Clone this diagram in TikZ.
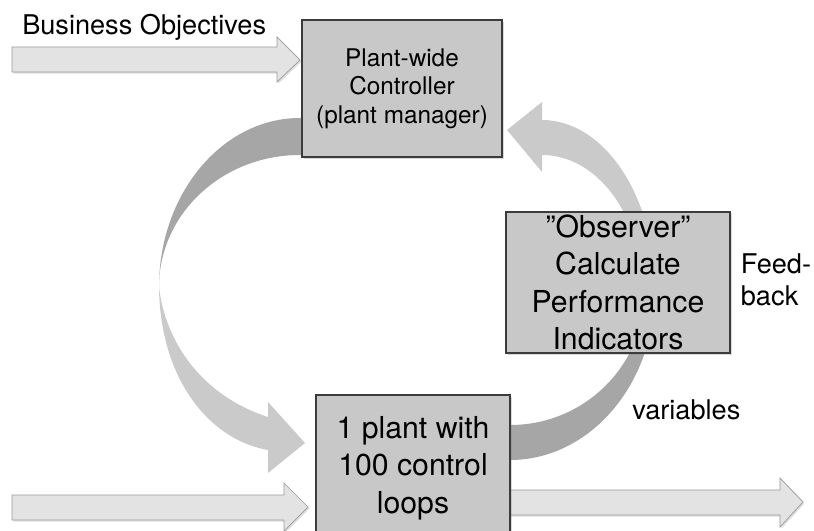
\documentclass[tikz,border=0pt]{standalone}
\usepackage{fontspec}
\setmainfont{TeX Gyre Heros}
\usetikzlibrary{shadows, positioning}
\definecolor{rgray1}{HTML}{C8C8C8}
\definecolor{rgray2}{HTML}{E3E3E3}
\definecolor{rgray3}{HTML}{A6A6A6}
\definecolor{rgray4}{HTML}{CACACA}
\definecolor{rline1}{HTML}{3C3C3C}
\definecolor{rline2}{HTML}{9A9A9A}

\begin{document}
\begin{tikzpicture}[x=0.025cm, y=-0.025cm,
        box/.style={draw=rline1, fill=rgray1, line width=0.8pt, align=center, inner sep=0pt,
            drop shadow={opacity=0.3, shadow xshift=1.2pt, shadow yshift=-1.2pt}},
        fat/.style={draw=rline2, fill=rgray2, line width=0.5pt,
            drop shadow={opacity=0.25, shadow xshift=1pt, shadow yshift=-1.2pt}},
        bigtxt/.style={font=\fontsize{21.5}{26.7}\selectfont},
        smalltxt/.style={font=\fontsize{17.3}{20.3}\selectfont},
        labeltxt/.style={font=\fontsize{19.3}{23}\selectfont, inner sep=0pt}]

        \clip (0,0) rectangle (814,531);

        % feedback loop, back and front halves
        \fill[rgray3] (306,118) -- (300,118) .. controls (222,118) and (159,194) .. (159,287)
            .. controls (159,214) and (222,155) .. (300,155) -- (306,155) -- cycle;
        \fill[rgray4] (159,287) .. controls (160,380) and (210,440) .. (268,450) -- (268,473) -- (305,443)
            -- (268,402) -- (268,417) .. controls (200,395) and (165,340) .. (159,287) -- cycle;

        \fill[rgray4] (655,290) .. controls (655,196) and (604,120) .. (542,120) -- (542,102) -- (507,130)
            -- (542,172) -- (542,155) .. controls (597,155) and (642,215) .. (642,290) -- cycle;
        \fill[rgray3] (505,460) -- (510,460) .. controls (590,460) and (655,384) .. (655,290) -- (645,290)
            .. controls (645,365) and (585,425) .. (510,425) -- (505,425) -- cycle;

        % straight arrows
        \draw[fat] (12,47) -- (277,47) -- (277,37) -- (300,60) -- (277,82) -- (277,72) -- (12,72) -- cycle;
        \draw[fat] (12,495) -- (284,495) -- (284,483) -- (308,507) -- (284,531) -- (284,520) -- (12,520) -- cycle;
        \draw[fat] (505,490) -- (780,490) -- (780,478) -- (803,502) -- (780,527) -- (780,515) -- (505,515) -- cycle;

        \node (ctrl) [box, smalltxt, minimum width=5cm, minimum height=3.425cm] at (402,88.5)
            {Plant-wide\\Controller\\(plant manager)};
        \node (obs) [box, bigtxt, minimum width=5.6cm, minimum height=3.525cm] at (618,282.5)
            {''Observer''\\Calculate\\Performance\\Indicators};
        \node (plant) [box, bigtxt, minimum width=4.85cm, minimum height=3.65cm] at (413,468)
            {1 plant with\\100 control\\loops};

        \node (bizobj) [labeltxt, anchor=base west] at (22,35) {Business Objectives};
        \node (fb) [labeltxt, align=left, right=0.25cm of obs, yshift=2pt] {Feed-\\back};
        \node (vars) [labeltxt, anchor=west] at (632,410) {variables};

\end{tikzpicture}
\end{document}
